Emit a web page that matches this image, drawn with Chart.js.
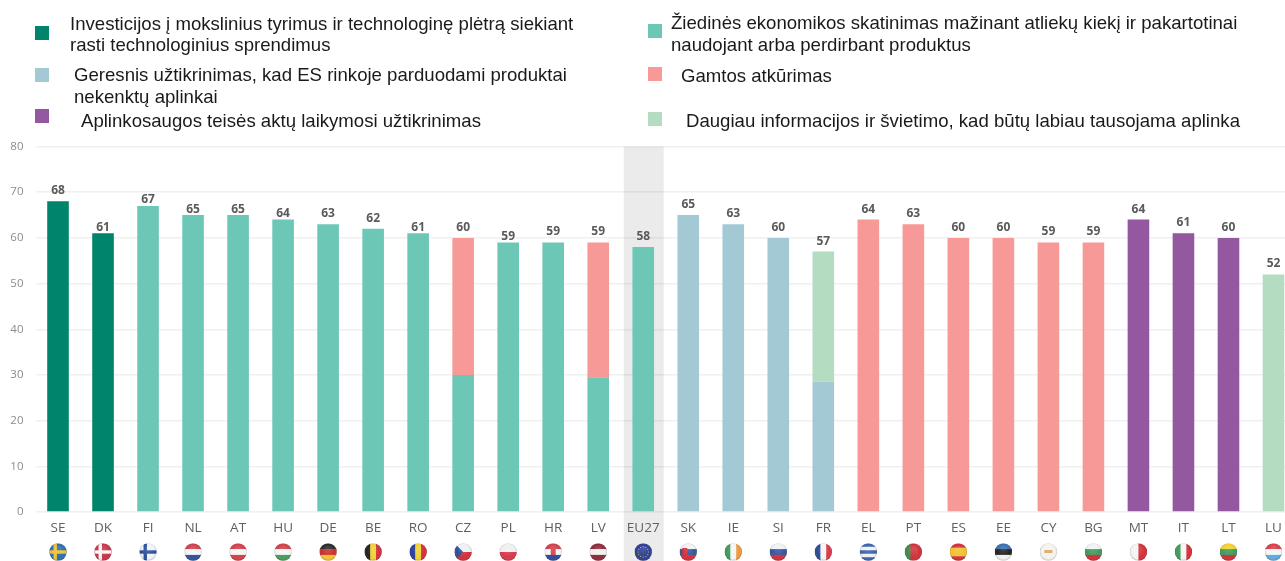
<!DOCTYPE html>
<html lang="lt">
<head>
<meta charset="utf-8">
<title>Aplinkos prioritetai</title>
<script src="https://cdn.jsdelivr.net/npm/chart.js@4"></script>
<style>
html, body { margin: 0; padding: 0; background: #fff; overflow: hidden; }
#wrap { position: relative; width: 1285px; height: 561px; overflow: hidden; }
#euChart { position: absolute; left: 0; top: 0; filter: blur(0.5px); }
.key { position: absolute; width: 14px; height: 14px; filter: blur(0.6px); }
.txt { position: absolute; font-family: "Liberation Sans", Arial, sans-serif; font-size: 18.6px; color: #1a1a1a; white-space: nowrap; filter: blur(0.25px); }
</style>
</head>
<body>
<div id="wrap">
  <canvas id="euChart" width="1300" height="561"></canvas>
</div>
<script>
var categories = ['SE', 'DK', 'FI', 'NL', 'AT', 'HU', 'DE', 'BE', 'RO', 'CZ', 'PL', 'HR', 'LV', 'EU27', 'SK', 'IE', 'SI', 'FR', 'EL', 'PT', 'ES', 'EE', 'CY', 'BG', 'MT', 'IT', 'LT', 'LU'];
var yTicks = [0, 10, 20, 30, 40, 50, 60, 70, 80];

var research = [68, 61, 0, 0, 0, 0, 0, 0, 0, 0, 0, 0, 0, 0, 0, 0, 0, 0, 0, 0, 0, 0, 0, 0, 0, 0, 0, 0];
var circular = [0, 0, 67, 65, 65, 64, 63, 62, 61, 30, 59, 59, 29.5, 58, 0, 0, 0, 0, 0, 0, 0, 0, 0, 0, 0, 0, 0, 0];
var products = [0, 0, 0, 0, 0, 0, 0, 0, 0, 0, 0, 0, 0, 0, 65, 63, 60, 28.5, 0, 0, 0, 0, 0, 0, 0, 0, 0, 0];
var restoration = [0, 0, 0, 0, 0, 0, 0, 0, 0, 30, 0, 0, 29.5, 0, 0, 0, 0, 0, 64, 63, 60, 60, 59, 59, 0, 0, 0, 0];
var enforcement = [0, 0, 0, 0, 0, 0, 0, 0, 0, 0, 0, 0, 0, 0, 0, 0, 0, 0, 0, 0, 0, 0, 0, 0, 64, 61, 60, 0];
var information = [0, 0, 0, 0, 0, 0, 0, 0, 0, 0, 0, 0, 0, 0, 0, 0, 0, 28.5, 0, 0, 0, 0, 0, 0, 0, 0, 0, 52];
var totals = [68, 61, 67, 65, 65, 64, 63, 62, 61, 60, 59, 59, 59, 58, 65, 63, 60, 57, 64, 63, 60, 60, 59, 59, 64, 61, 60, 52];

// these labels sit almost on top of their bar in the original
var closeLabels = ['DK', 'FI', 'NL', 'AT', 'HU', 'RO', 'PL'];

var legendLabels = [
    'Investicijos į mokslinius tyrimus ir technologinę plėtrą siekiant<br>rasti technologinius sprendimus',
    'Geresnis užtikrinimas, kad ES rinkoje parduodami produktai<br>nekenktų aplinkai',
    'Aplinkosaugos teisės aktų laikymosi užtikrinimas',
    'Žiedinės ekonomikos skatinimas mažinant atliekų kiekį ir pakartotinai<br>naudojant arba perdirbant produktus',
    'Gamtos atkūrimas',
    'Daugiau informacijos ir švietimo, kad būtų labiau tausojama aplinka'
];
var legendColors = ['#00846b', '#a3c9d5', '#93589f', '#6cc7b6', '#f79a97', '#b3dcc0'];
var legendKeyPos = [[35, 26], [35, 68], [35, 109], [648, 24], [648, 67], [648, 112]];
var legendTextPos = [[70, 13], [74, 64], [81, 110], [671, 12], [681, 65], [686, 110]];
var legendLineHeights = [21, 22, 22, 22, 22, 22];

// flags: [kind, colours]  h = horizontal stripes, v = vertical stripes, c = nordic cross
var flags = {
    SE: ['c', ['#2f6fb0', '#f2c230']], DK: ['c', ['#c8334a', '#f5f5f5']], FI: ['c', ['#f2f4f8', '#2a4f9a']],
    NL: ['h', ['#d0404f', '#f5f5f5', '#33509e']], AT: ['h', ['#d2404a', '#f5f5f5', '#d2404a']],
    HU: ['h', ['#d0404a', '#f5f5f5', '#4b9a5c']], DE: ['h', ['#2b2b2b', '#c9302c', '#f2c230']],
    BE: ['v', ['#222222', '#f2d030', '#d2303a']], RO: ['v', ['#2a3f9a', '#f2d030', '#d2303a']],
    CZ: ['h', ['#eef0f4', '#d2303a']], PL: ['h', ['#f0f0f0', '#d8394a']],
    HR: ['h', ['#d2404a', '#f5f5f5', '#2f4a9c']], LV: ['h', ['#8e2a3a', '#f0f0f0', '#8e2a3a']],
    EU27: ['h', ['#2e3d96']], SK: ['h', ['#f2f2f2', '#3554a0', '#d2303a']],
    IE: ['v', ['#3f9a5a', '#f5f5f5', '#ee9a3e']], SI: ['h', ['#f2f2f2', '#3554a0', '#d2303a']],
    FR: ['v', ['#2d4a96', '#f5f5f5', '#d8394a']], EL: ['h', ['#3a62ae', '#f0f0f0', '#3a62ae', '#f0f0f0', '#3a62ae']],
    PT: ['v', ['#3f8a4a', '#d2303a', '#d2303a']], ES: ['h', ['#d2303a', '#f2c230', '#f2c230', '#d2303a']],
    EE: ['h', ['#3a6fb0', '#222222', '#f2f2f2']], CY: ['h', ['#f4f3ee']],
    BG: ['h', ['#f2f2f2', '#3f9a5a', '#d2303a']], MT: ['v', ['#f4f4f4', '#d2303a']],
    IT: ['v', ['#3f9a5a', '#f5f5f5', '#d2303a']], LT: ['h', ['#f2d030', '#3f9a5a', '#d2303a']],
    LU: ['h', ['#d8404a', '#f5f5f5', '#62a8de']]
};

var wrap = document.getElementById('wrap');
legendLabels.forEach(function (text, i) {
    var key = document.createElement('div');
    key.className = 'key';
    key.style.left = legendKeyPos[i][0] + 'px';
    key.style.top = legendKeyPos[i][1] + 'px';
    key.style.background = legendColors[i];
    wrap.appendChild(key);
    var txt = document.createElement('div');
    txt.className = 'txt';
    txt.style.left = legendTextPos[i][0] + 'px';
    txt.style.top = legendTextPos[i][1] + 'px';
    txt.style.lineHeight = legendLineHeights[i] + 'px';
    txt.innerHTML = text;
    wrap.appendChild(txt);
});

function drawFlag(ctx, code, cx, cy, r) {
    var flag = flags[code];
    var colors = flag[1];
    ctx.save();
    ctx.beginPath();
    ctx.arc(cx, cy, r, 0, Math.PI * 2);
    ctx.clip();
    if (flag[0] === 'h') {
        colors.forEach(function (c, i) {
            ctx.fillStyle = c;
            ctx.fillRect(cx - r, cy - r + i * 2 * r / colors.length, 2 * r, 2 * r / colors.length + 0.5);
        });
    } else if (flag[0] === 'v') {
        colors.forEach(function (c, i) {
            ctx.fillStyle = c;
            ctx.fillRect(cx - r + i * 2 * r / colors.length, cy - r, 2 * r / colors.length + 0.5, 2 * r);
        });
    } else {
        ctx.fillStyle = colors[0];
        ctx.fillRect(cx - r, cy - r, 2 * r, 2 * r);
        ctx.fillStyle = colors[1];
        ctx.fillRect(cx - r, cy - 1.7, 2 * r, 3.4);
        ctx.fillRect(cx - 4.5, cy - r, 3.4, 2 * r);
    }
    if (code === 'EU27') {
        ctx.fillStyle = '#c9c25a';
        for (var s = 0; s < 12; s++) {
            ctx.fillRect(cx + Math.cos(s * Math.PI / 6) * 5.2 - 0.5, cy + Math.sin(s * Math.PI / 6) * 5.2 - 0.5, 1, 1);
        }
    }
    if (code === 'CZ') {
        ctx.fillStyle = '#2f4f96';
        ctx.beginPath();
        ctx.moveTo(cx - r, cy - r);
        ctx.lineTo(cx, cy);
        ctx.lineTo(cx - r, cy + r);
        ctx.fill();
    }
    if (code === 'CY') {
        ctx.fillStyle = '#d8a860';
        ctx.fillRect(cx - 4, cy - 2, 8, 3);
    }
    if (code === 'HR') {
        ctx.fillStyle = '#d2404a';
        ctx.fillRect(cx - 2.5, cy - 3, 5, 6);
    }
    if (code === 'SK') {
        ctx.fillStyle = '#d2303a';
        ctx.fillRect(cx - 6, cy - 4, 5, 7);
    }
    // glossy shading on the round flag
    var shade = ctx.createRadialGradient(cx, cy - 3, 2, cx, cy, r);
    shade.addColorStop(0, 'rgba(255,255,255,0.12)');
    shade.addColorStop(0.7, 'rgba(255,255,255,0)');
    shade.addColorStop(1, 'rgba(0,0,0,0.22)');
    ctx.fillStyle = shade;
    ctx.fillRect(cx - r, cy - r, 2 * r, 2 * r);
    ctx.restore();
}

var euBand = {
    id: 'euBand',
    beforeDatasetsDraw: function (chart) {
        var x = chart.scales.x.getPixelForValue(categories.indexOf('EU27'));
        var ctx = chart.ctx;
        ctx.save();
        ctx.fillStyle = 'rgba(0,0,0,0.08)';
        ctx.fillRect(x - 19.5, chart.chartArea.top, 40, chart.height - chart.chartArea.top);
        ctx.restore();
    }
};

var barExtras = {
    id: 'barExtras',
    afterDatasetsDraw: function (chart) {
        var ctx = chart.ctx;
        var xs = chart.scales.x, ys = chart.scales.y;
        ctx.save();
        ctx.textAlign = 'center';
        ctx.textBaseline = 'alphabetic';
        categories.forEach(function (code, i) {
            var x = xs.getPixelForValue(i);
            var gap = closeLabels.indexOf(code) >= 0 ? 2.5 : 7;
            ctx.font = 'bold 12px "Open Sans", sans-serif';
            ctx.fillStyle = '#5a5a5a';
            ctx.fillText(totals[i], x, ys.getPixelForValue(totals[i]) - gap);
            drawFlag(ctx, code, x, chart.chartArea.bottom + 40, 8.7);
        });
        ctx.restore();
    }
};

function series(label, data, color) {
    return { label: label, data: data, backgroundColor: color, stack: 'a', barPercentage: 0.48, categoryPercentage: 1 };
}

new Chart(document.getElementById('euChart').getContext('2d'), {
    type: 'bar',
    data: {
        labels: categories,
        datasets: [
            series('Investicijos', research, legendColors[0]),
            series('Žiedinė ekonomika', circular, legendColors[3]),
            series('Produktai', products, legendColors[1]),
            series('Gamtos atkūrimas', restoration, legendColors[4]),
            series('Teisės aktai', enforcement, legendColors[2]),
            series('Informacija', information, legendColors[5])
        ]
    },
    options: {
        responsive: false,
        animation: false,
        layout: { padding: { top: 146.5, bottom: 24, right: 4, left: 0 } },
        plugins: { legend: { display: false }, tooltip: { enabled: false } },
        scales: {
            x: {
                stacked: true,
                afterFit: function (scale) { scale.height = 25; },
                grid: { display: false },
                border: { display: false },
                ticks: { z: 1, color: '#5f5f5f', font: { family: 'Open Sans', size: 13.5 }, padding: 0, maxRotation: 0, autoSkip: false }
            },
            y: {
                stacked: true,
                min: 0,
                max: 80,
                afterFit: function (scale) { scale.width = 35.5; },
                afterBuildTicks: function (scale) { scale.ticks = yTicks.map(function (v) { return { value: v }; }); },
                grid: { color: '#f0f0f0', lineWidth: 1.5, drawTicks: false },
                border: { display: false },
                ticks: { color: '#8c8c8c', font: { family: 'Open Sans', size: 11.5 }, padding: 12 }
            }
        }
    },
    plugins: [euBand, barExtras]
});
</script>
</body>
</html>
